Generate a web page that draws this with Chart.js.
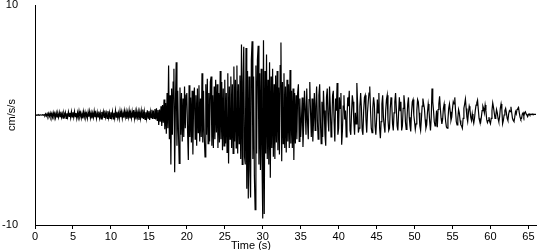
<!DOCTYPE html>
<html lang="en">
<head>
    <meta charset="UTF-8">
    <script src="https://cdn.jsdelivr.net/npm/chart.js"></script>
    <title>Accelerogram</title>
    <style>
        body { margin: 0; background: #ffffff; }
        #wrap { width: 550px; height: 250px; }
    </style>
</head>
<body>
<div id="wrap"><canvas id="accelChart"></canvas></div>
<script>
    // sample spacing of the record (s)
    const sampleStep = 0.1;

    // ground acceleration (cm/s/s), one line per second of record
    const accel = [
        0, 0.02, -0.02, 0.01, -0.01, 0.02, -0.02, 0.01, 0, -0.01,
        0.02, -0.03, 0.04, -0.05, 0.1, -0.08, 0.12, -0.1, 0.15, -0.12,
        0.18, -0.15, 0.12, -0.2, 0.22, -0.1, 0.15, -0.25, 0.2, -0.18,
        0.1, -0.22, 0.25, -0.15, 0.3, -0.2, 0.12, -0.28, 0.18, -0.1,
        0.22, -0.3, 0.15, -0.2, 0.28, -0.12, 0.2, -0.25, 0.3, -0.18,
        // 5 s
        0.25, -0.2, 0.32, -0.15, 0.18, -0.3, 0.22, -0.22, 0.35, -0.12,
        0.2, -0.28, 0.15, -0.32, 0.3, -0.18, 0.25, -0.2, 0.12, -0.3,
        0.28, -0.15, 0.33, -0.25, 0.2, -0.3, 0.18, -0.22, 0.35, -0.2,
        0.15, -0.3, 0.25, -0.18, 0.32, -0.25, 0.2, -0.35, 0.28, -0.15,
        0.3, -0.22, 0.4, -0.2, 0.18, -0.3, 0.35, -0.25, 0.22, -0.32,
        // 10 s
        0.25, -0.18, 0.3, -0.35, 0.2, -0.28, 0.4, -0.2, 0.3, -0.25,
        0.18, -0.32, 0.35, -0.2, 0.28, -0.3, 0.22, -0.25, 0.38, -0.18,
        0.3, -0.35, 0.25, -0.22, 0.4, -0.3, 0.2, -0.28, 0.32, -0.25,
        0.45, -0.3, 0.28, -0.4, 0.35, -0.2, 0.3, -0.45, 0.25, -0.3,
        0.38, -0.25, 0.5, -0.35, 0.3, -0.4, 0.25, -0.3, 0.42, -0.28,
        // 15 s
        0.35, -0.45, 0.3, -0.25, 0.48, -0.35, 0.4, -0.3, 0.55, -0.4,
        0.6, -0.5, 0.45, -0.9, 0.5, -0.6, 0.8, -1.0, 0.9, -0.7,
        1.4, -1.3, 1.1, -1.7, 2.0, -1.2, 4.5, -2.2, 1.8, -4.5,
        2.4, -1.8, 3.0, 4.2, -5.2, 1.0, 4.8, -2.8, 2.2, -1.6,
        -4.4, 2.5, -1.8, 2.0, -2.4, 1.5, -2.0, 2.6, -1.2, 1.8,
        // 20 s
        2.0, -1.5, -4.1, 2.7, -2.0, 1.6, -2.5, 2.2, -3.6, 1.4,
        2.5, -2.2, 1.8, -2.8, 2.4, -1.6, 2.7, -2.4, 1.5, -2.0,
        3.8, -2.5, 2.2, -2.0, -3.8, 2.8, -1.8, 3.3, -2.6, 2.0,
        -2.4, 3.0, 3.5, -2.8, 1.8, -3.0, 2.6, -2.2, 3.2, -1.6,
        2.8, -3.0, 2.0, -2.5, 4.0, -2.2, 3.0, -3.2, 2.4, -2.8,
        // 25 s
        3.2, -2.6, 2.0, -3.4, 3.8, -4.4, 2.6, -2.2, 3.5, -3.0,
        2.8, -3.5, 4.4, -2.4, 3.2, -3.0, 4.5, -3.5, 2.8, -2.6,
        3.6, -4.0, 6.4, -4.5, 3.0, 6.2, -3.8, -4.5, 6.1, -6.7,
        4.0, -7.6, 3.5, -5.0, -7.5, 5.0, 6.7, -4.0, 3.5, -5.5,
        -8.6, 4.5, -3.5, 5.0, 6.3, -4.5, 3.8, -5.0, 4.2, -3.8,
        // 30 s
        -9.4, 6.8, -9.0, 4.0, -3.5, 5.5, -4.0, 3.2, -4.5, 4.8,
        -5.7, 3.5, -3.0, 4.2, -3.8, 2.8, -4.0, 3.6, -2.5, 4.0,
        -3.2, 2.5, -3.6, 4.5, 6.6, -4.2, 3.0, -2.6, 3.8, -3.0,
        2.6, -3.4, 3.2, -2.4, 2.8, -3.0, 4.1, -2.6, 2.2, -3.0,
        2.4, -4.1, 2.0, -2.6, 1.8, -2.2, 2.0, 2.8, -2.4, 1.5,
        // 35 s
        -2.0, -0.5, 1.6, -2.9, -0.8, 2.2, 0.5, -1.8, 2.4, -0.6,
        -2.2, 1.4, 3.0, 0.2, -2.0, 1.5, -2.4, -0.4, 2.0, -1.4,
        0.8, 2.6, -0.5, -2.2, 1.8, 2.8, -0.6, -2.6, 1.2, -2.0,
        2.2, 0.4, -1.8, -2.8, 1.6, 2.4, -0.4, -1.5, 2.6, 0.8,
        -2.0, -1.0, 1.8, 2.2, -0.6, -2.4, 1.5, 0.4, 2.9, -1.8,
        // 40 s
        -1.2, 1.6, 0.6, 2.0, -2.7, -1.4, 0.8, 1.8, -0.4, 0.4,
        -2.0, -0.4, 1.6, 0.8, 2.2, -1.4, -1.8, 0.2, 1.8, 1.2,
        -0.6, -1.8, 0.2, -0.8, 2.9, 1.0, -1.6, -1.2, 0.8, 2.0,
        0.6, -1.4, -1.8, 0.4, 1.6, 1.8, -0.4, -1.6, 0.2, 1.2,
        2.0, 2.6, 0.4, -1.2, -1.6, 0.6, 1.6, 1.0, -1.0, -1.8,
        // 45 s
        -0.4, 1.4, 0.2, 2.0, -1.2, -2.1, -0.6, 1.0, 1.8, -0.2,
        -1.0, -1.6, 0.4, 1.4, 1.8, -0.4, -1.4, -1.2, 0.6, 1.6,
        1.0, -0.8, -1.4, 0.2, 1.2, 2.0, 0.6, -1.0, -1.4, 0.2,
        1.6, 0.4, 1.2, -1.4, -1.0, 0.6, 1.8, 1.0, -0.6, -1.3,
        -0.4, 1.0, 1.6, -0.2, -1.0, -1.5, 0.2, 1.2, 1.4, 0.0,
        // 50 s
        -0.6, -1.3, -0.8, 0.4, 1.4, 1.2, 0.2, -1.0, -1.4, -0.4,
        0.8, 1.5, 1.0, 0.6, -0.4, -1.2, -0.9, 0.2, 1.0, 0.4,
        -0.6, -1.4, -0.2, 2.4, 1.2, 0.4, -0.6, -1.0, -0.5, 0.4,
        -1.1, 0.5, 1.0, 1.7, 0.6, -0.3, -0.8, -0.4, 0.6, 1.0,
        0.2, -0.6, -1.1, -1.2, -0.4, 0.6, 1.0, 0.3, -0.5, -0.2,
        // 55 s
        0.6, 1.2, 1.0, 1.6, 0.4, -0.6, -0.9, -0.3, 0.5, 0.2,
        -0.5, -0.9, -1.0, -1.2, -0.3, 0.6, 1.0, 1.45, 0.6, -0.2,
        -0.6, 0.2, 0.8, 0.5, -0.2, -0.5, 0.1, -0.4, -0.75, -0.3,
        0.4, 0.9, 1.1, 1.35, 0.5, -0.3, -0.6, -0.7, -0.2, 0.4,
        0.8, 0.6, 0.2, 0.9, 0.4, -0.4, -0.7, -0.5, -0.2, -0.6,
        // 60 s
        -0.8, -0.3, 0.4, 1.1, 0.7, 0.2, -0.3, -0.1, 0.5, 0.2,
        -0.3, -0.6, -0.2, 0.6, 1.0, 0.5, -0.8, -0.5, 0.0, 0.4,
        0.6, 0.2, -0.3, -0.5, 0.1, 0.4, 0.3, 0.75, 0.2, -0.3,
        -0.5, -0.6, -0.2, 0.3, 0.1, 0.5, 0.6, 0.7, 0.2, -0.2,
        -0.4, -0.3, 0.1, 0.2, -0.1, 0.2, 0.3, 0.1, 0.0, -0.15,
        // 65 s
        0.05, 0.1, 0.0, 0.08, 0.05, 0.1, 0.05, 0.08, 0.05, 0.06,
        0.05
    ];

    const timeTicks = [0, 5, 10, 15, 20, 25, 30, 35, 40, 45, 50, 55, 60, 65];
    const accelTicks = [-10, 10];
    const xTitle = 'Time (s)';
    const yTitle = 'cm/s/s';

    const points = accel.map((v, i) => ({ x: i * sampleStep, y: v }));

    const font = { family: '"Liberation Sans", Arial, sans-serif', size: 11 };

    // axis titles sit in fixed spots like the original plot
    const axisTitles = {
        id: 'axisTitles',
        afterDraw(chart) {
            const ctx = chart.ctx;
            const area = chart.chartArea;
            ctx.save();
            ctx.fillStyle = '#000';
            ctx.font = '11px ' + font.family;
            ctx.textAlign = 'center';
            ctx.textBaseline = 'top';
            ctx.fillText(xTitle, 251, 240);
            ctx.translate(area.left - 23, (area.top + area.bottom) / 2);
            ctx.rotate(-Math.PI / 2);
            ctx.textBaseline = 'middle';
            ctx.fillText(yTitle, 0, 0);
            ctx.restore();
        }
    };

    new Chart(document.getElementById('accelChart'), {
        type: 'line',
        data: {
            datasets: [{
                data: points,
                borderColor: '#000',
                borderWidth: 1.2,
                pointRadius: 0,
                tension: 0
            }]
        },
        options: {
            responsive: true,
            maintainAspectRatio: false,
            animation: false,
            parsing: false,
            layout: { padding: { top: 5, right: 14, left: 0, bottom: 0 } },
            plugins: { legend: { display: false }, tooltip: { enabled: false } },
            scales: {
                x: {
                    type: 'linear',
                    min: 0,
                    max: 66,
                    afterBuildTicks: s => { s.ticks = timeTicks.map(v => ({ value: v })); },
                    afterFit: s => { s.height = 25; },
                    grid: { drawOnChartArea: false, drawTicks: true, tickLength: 4, color: '#000' },
                    border: { display: true, color: '#000', width: 1 },
                    ticks: { color: '#000', font: font, padding: 1, maxRotation: 0, autoSkip: false }
                },
                y: {
                    min: -10,
                    max: 10,
                    afterBuildTicks: s => { s.ticks = accelTicks.map(v => ({ value: v })); },
                    afterFit: s => { s.width = 35; s.paddingTop = 0; s.paddingBottom = 0; },
                    grid: { drawOnChartArea: false, drawTicks: false, color: '#000' },
                    border: { display: true, color: '#000', width: 1 },
                    ticks: { color: '#000', font: font, padding: 17 }
                }
            }
        },
        plugins: [axisTitles]
    });
</script>
</body>
</html>
